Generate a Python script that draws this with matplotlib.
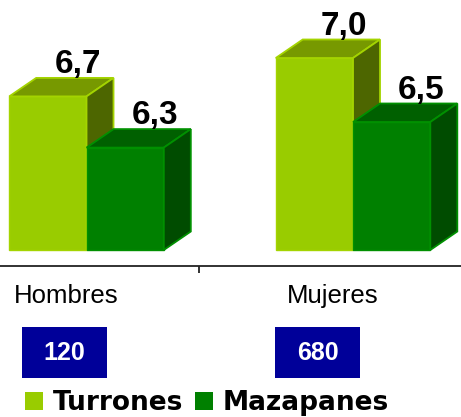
import numpy as np
import matplotlib
matplotlib.use("Agg")
import matplotlib.pyplot as plt
from matplotlib.patches import Polygon, Rectangle, Patch

# data
categories = ["Hombres", "Mujeres"]
series = ["Turrones", "Mazapanes"]
turrones = [6.7, 7.0]
mazapanes = [6.3, 6.5]
sample_sizes = ["120", "680"]
value_labels = [["6,7", "7,0"], ["6,3", "6,5"]]

# style
W, H = 461, 417
face = {"Turrones": ("#99CC00", "#779900", "#4D6600", "#A4D400"),
        "Mazapanes": ("#008000", "#006000", "#004C00", "#009000")}
FLOOR = 5.5
PX_PER_CAT = 266.5
PX_PER_VAL = 128.0
X0_PX = 66            # pixel of category 0
Y0_PX = 250           # pixel of the floor value
DX = 27 / PX_PER_CAT  # 3d depth
DY = 18.5 / PX_PER_VAL
BAR_W = 0.29
OFFSETS = [-0.213, 0.077]


def px(x, y):
    # pixel (from top-left) -> figure fraction
    return x / W, 1 - y / H


fig = plt.figure(figsize=(W / 100, H / 100), dpi=100)
ax = fig.add_axes([0, 0, 1, 1])
ax.set_xlim(-X0_PX / PX_PER_CAT, (W - X0_PX) / PX_PER_CAT)
ax.set_ylim(FLOOR - (H - Y0_PX) / PX_PER_VAL, FLOOR + Y0_PX / PX_PER_VAL)
ax.patch.set_alpha(0)


def bar3d(x, v, colors):
    front, top, side, edge = colors
    x1 = x + BAR_W
    pf = Polygon([(x, FLOOR), (x1, FLOOR), (x1, v), (x, v)], closed=True,
                 facecolor=front, edgecolor=edge, lw=1)
    pt = Polygon([(x, v), (x1, v), (x1 + DX, v + DY), (x + DX, v + DY)], closed=True,
                 facecolor=top, edgecolor=edge, lw=1.3)
    ps = Polygon([(x1, FLOOR), (x1 + DX, FLOOR + DY), (x1 + DX, v + DY), (x1, v)], closed=True,
                 facecolor=side, edgecolor=edge, lw=1.3)
    for p in (pf, pt, ps):
        ax.add_patch(p)


for i, cat in enumerate(categories):
    for j, (name, vals) in enumerate(zip(series, [turrones, mazapanes])):
        x = i + OFFSETS[j]
        bar3d(x, vals[i], face[name])
        ax.annotate(value_labels[j][i], xy=(x + BAR_W, vals[i]),
                    xytext=(-9, 32), textcoords="offset pixels",
                    ha="center", va="center", fontsize=24, fontweight="bold",
                    family="Liberation Sans", color="black")

# category axis
for s in ["left", "right", "top"]:
    ax.spines[s].set_visible(False)
ax.spines["bottom"].set_position(("data", FLOOR - 16 / PX_PER_VAL))
ax.spines["bottom"].set_color("#222222")
ax.spines["bottom"].set_linewidth(1.3)
ax.set_yticks([])
ax.set_xticks(range(len(categories)))
ax.set_xticklabels(categories, fontsize=18.5, family="Liberation Sans")
ax.tick_params(axis="x", which="major", length=0, pad=13)
ax.set_xticks([0.5], minor=True)
ax.tick_params(axis="x", which="minor", length=5, width=1.3, color="#222222", direction="out")

# sample size boxes
box_centers = [64.5, 317.5]
for cx, n in zip(box_centers, sample_sizes):
    bx, by = px(cx - 42.5, 378)
    fig.patches.append(Rectangle((bx, by), 85 / W, 51 / H, transform=fig.transFigure,
                                 facecolor="#000099", edgecolor="none"))
    tx, ty = px(cx, 352.5)
    fig.text(tx, ty, n, ha="center", va="center", color="white",
             fontsize=18, fontweight="bold", family="Liberation Sans")

# legend
handles = [Patch(facecolor=face[s][0], edgecolor="none") for s in series]
lx, ly = px(25, 403)
leg = fig.legend(handles, series, loc="center left", bbox_to_anchor=(lx, ly),
                 ncol=2, frameon=False, borderpad=0, borderaxespad=0,
                 handlelength=0.68, handleheight=0.68, handletextpad=0.36,
                 columnspacing=0.45,
                 prop={"family": "DejaVu Sans", "weight": "bold", "size": 19})

fig.savefig("out.png", dpi=100)
